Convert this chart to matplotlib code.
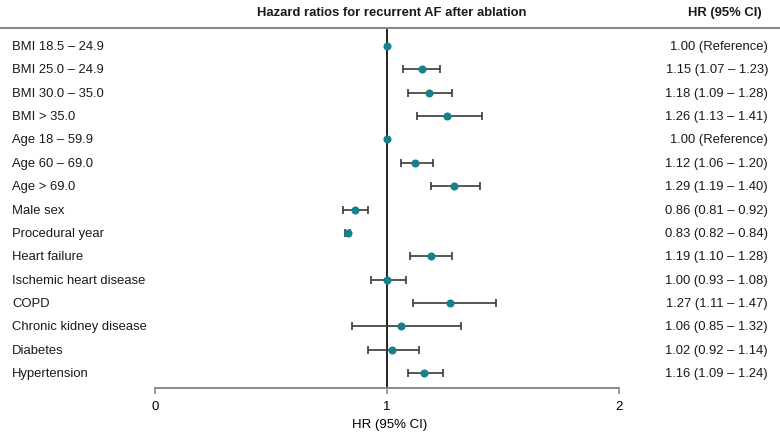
import numpy as np
import matplotlib
matplotlib.use("Agg")
import matplotlib.pyplot as plt
import matplotlib.transforms as mtransforms

plt.rcParams['font.family'] = ['Liberation Sans', 'DejaVu Sans']

# data
labels = ["BMI 18.5 \u2013 24.9", "BMI 25.0 \u2013 24.9", "BMI 30.0 \u2013 35.0", "BMI > 35.0",
          "Age 18 \u2013 59.9", "Age 60 \u2013 69.0", "Age > 69.0", "Male sex",
          "Procedural year", "Heart failure", "Ischemic heart disease", "COPD",
          "Chronic kidney disease", "Diabetes", "Hypertension"]
hr = [1.00, 1.15, 1.18, 1.26, 1.00, 1.12, 1.29, 0.86, 0.83, 1.19, 1.00, 1.27, 1.06, 1.02, 1.16]
ci_lo = [None, 1.07, 1.09, 1.13, None, 1.06, 1.19, 0.81, 0.82, 1.10, 0.93, 1.11, 0.85, 0.92, 1.09]
ci_hi = [None, 1.23, 1.28, 1.41, None, 1.20, 1.40, 0.92, 0.84, 1.28, 1.08, 1.47, 1.32, 1.14, 1.24]
x_ticks = [0, 1, 2]

teal = '#16818e'
W, H = 780, 435
fig = plt.figure(figsize=(W / 100, H / 100), dpi=100)

# axes spans full width; bottom spine at y=389px, top (header line) at y=29px
ax = fig.add_axes([0, (H - 389) / H, 1, (389 - 29) / H])
px_per_unit = 232
x0 = 155
ax.set_xlim(-x0 / px_per_unit, (W - x0) / px_per_unit)
row0, step = 47, 23.36
ax.set_ylim((389 - row0) / step, (29 - row0) / step)

rows = np.arange(len(labels))
hr_arr = np.array(hr)
has_ci = np.array([lo is not None for lo in ci_lo])
lo_arr = np.array([lo if lo is not None else np.nan for lo in ci_lo], dtype=float)
hi_arr = np.array([h if h is not None else np.nan for h in ci_hi], dtype=float)

ax.axvline(1, color='#111111', lw=1.3, zorder=1)

ax.errorbar(hr_arr[has_ci], rows[has_ci],
            xerr=[hr_arr[has_ci] - lo_arr[has_ci], hi_arr[has_ci] - hr_arr[has_ci]],
            fmt='none', ecolor='#3a3a3a', elinewidth=1.2, capsize=3.2, capthick=1.2, zorder=2)
ax.plot(hr_arr, rows, 'o', color=teal, ms=4.8, zorder=3)

for s in ['left', 'right']:
    ax.spines[s].set_visible(False)
ax.spines['top'].set_color('#8a8a8a')
ax.spines['top'].set_linewidth(1.5)
ax.spines['bottom'].set_color('#8a8a8a')
ax.spines['bottom'].set_linewidth(1.4)
ax.spines['bottom'].set_bounds(x_ticks[0], x_ticks[-1])
ax.set_yticks([])
ax.set_xticks(x_ticks)
ax.set_xticklabels([str(t) for t in x_ticks], fontsize=9.5)
ax.tick_params(axis='x', direction='out', length=4.5, width=1.2, color='#8a8a8a', pad=4)
ax.set_xlabel('HR (95% CI)', fontsize=9.5, labelpad=4.5)

# row labels and HR text
trans = mtransforms.blended_transform_factory(ax.transAxes, ax.transData)
for i, lab in enumerate(labels):
    ax.text(12 / W, i, lab, transform=trans, ha='left', va='center', fontsize=9.4, color='#1a1a1a')
    if ci_lo[i] is None:
        txt = f"{hr[i]:.2f} (Reference)"
    else:
        txt = f"{hr[i]:.2f} ({ci_lo[i]:.2f} \u2013 {ci_hi[i]:.2f})"
    ax.text(768 / W, i, txt, transform=trans, ha='right', va='center', fontsize=9.4, color='#1a1a1a')

fig.text(392 / W, 1 - 13 / H, 'Hazard ratios for recurrent AF after ablation',
         ha='center', va='center', fontsize=9.4, fontweight='bold', color='#1a1a1a')
fig.text(762 / W, 1 - 13 / H, 'HR (95% CI)', ha='right', va='center',
         fontsize=9.4, fontweight='bold', color='#1a1a1a')

fig.savefig('out.png', dpi=100)
